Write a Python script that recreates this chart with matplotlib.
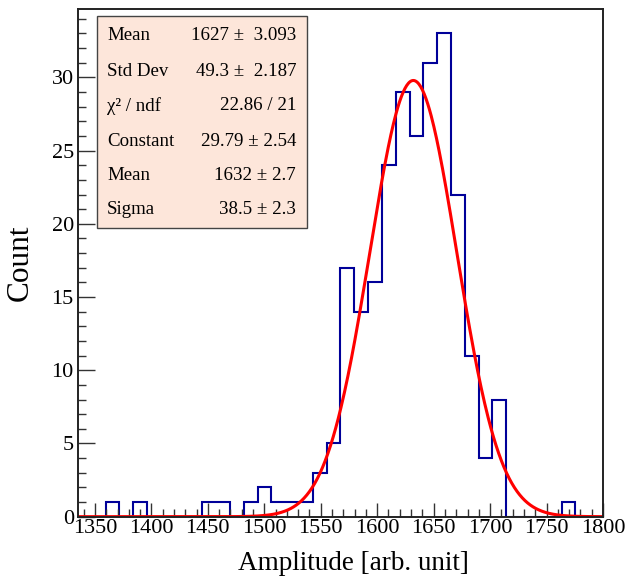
import numpy as np
import matplotlib
matplotlib.use('Agg')
import matplotlib.pyplot as plt
from matplotlib.ticker import MultipleLocator

# histogram: 38 bins between 1335 and 1800
x_lo, x_hi, n_bins = 1335, 1800, 38
counts = [0, 0, 1, 0, 1, 0, 0, 0, 0, 1, 1, 0, 1, 2, 1, 1, 1, 3, 5, 17,
          14, 16, 24, 29, 26, 31, 33, 22, 11, 4, 8, 0, 0, 0, 0, 1, 0, 0]

# gaussian fit parameters
fit_const, fit_mean, fit_sigma = 29.79, 1632, 38.5

stat_names = ['Mean', 'Std Dev', 'χ² / ndf', 'Constant', 'Mean', 'Sigma']
stat_values = ['1627 ±  3.093', '49.3 ±  2.187', '22.86 / 21',
               '29.79 ± 2.54', '1632 ± 2.7', '38.5 ± 2.3']

plt.rcParams['font.family'] = ['Liberation Serif', 'DejaVu Serif']

edges = np.linspace(x_lo, x_hi, n_bins + 1)
fig = plt.figure(figsize=(6.27, 5.86), dpi=100)
ax = fig.add_axes([0.1244, 0.1183, 0.9617 - 0.1244, 0.9841 - 0.1183])

ax.stairs(counts, edges, color='#000099', lw=1.5, baseline=0)
xf = np.linspace(x_lo, x_hi, 600)
ax.plot(xf, fit_const * np.exp(-0.5 * ((xf - fit_mean) / fit_sigma) ** 2),
        color='red', lw=2.2)

ax.set_xlim(x_lo, x_hi)
ax.set_ylim(0, max(counts) * 1.05)
ax.xaxis.set_major_locator(MultipleLocator(50))
ax.xaxis.set_minor_locator(MultipleLocator(10))
ax.yaxis.set_major_locator(MultipleLocator(5))
ax.yaxis.set_minor_locator(MultipleLocator(1))
ax.tick_params(which='both', direction='in', top=False, right=False,
               labelsize=16, width=1, color='#333333')
ax.tick_params(axis='x', which='major', length=10, pad=2)
ax.tick_params(axis='x', which='minor', length=6)
ax.tick_params(axis='y', which='major', length=12, pad=3)
ax.tick_params(axis='y', which='minor', length=6)
for s in ax.spines.values():
    s.set_linewidth(1.4)
    s.set_color('#222222')

ax.set_xlabel('Amplitude [arb. unit]', fontsize=19.5)
ax.xaxis.set_label_coords(0.524, -0.068)
ax.set_ylabel('Count', fontsize=22.5, labelpad=12)

# stats box
box = plt.Rectangle((97 / 627, 1 - 228 / 586), 210 / 627, 212 / 586,
                    transform=fig.transFigure, facecolor='#fde6da',
                    edgecolor='#444444', lw=1, zorder=5)
fig.add_artist(box)
row_y = [35, 71, 106, 141, 176, 210]
for name, val, yy in zip(stat_names, stat_values, row_y):
    fig.text(107 / 627, 1 - yy / 586, name, fontsize=13.6, va='center', ha='left', zorder=6)
    fig.text(296 / 627, 1 - yy / 586, val, fontsize=13.6, va='center', ha='right', zorder=6)

fig.savefig('out.png', dpi=100)
